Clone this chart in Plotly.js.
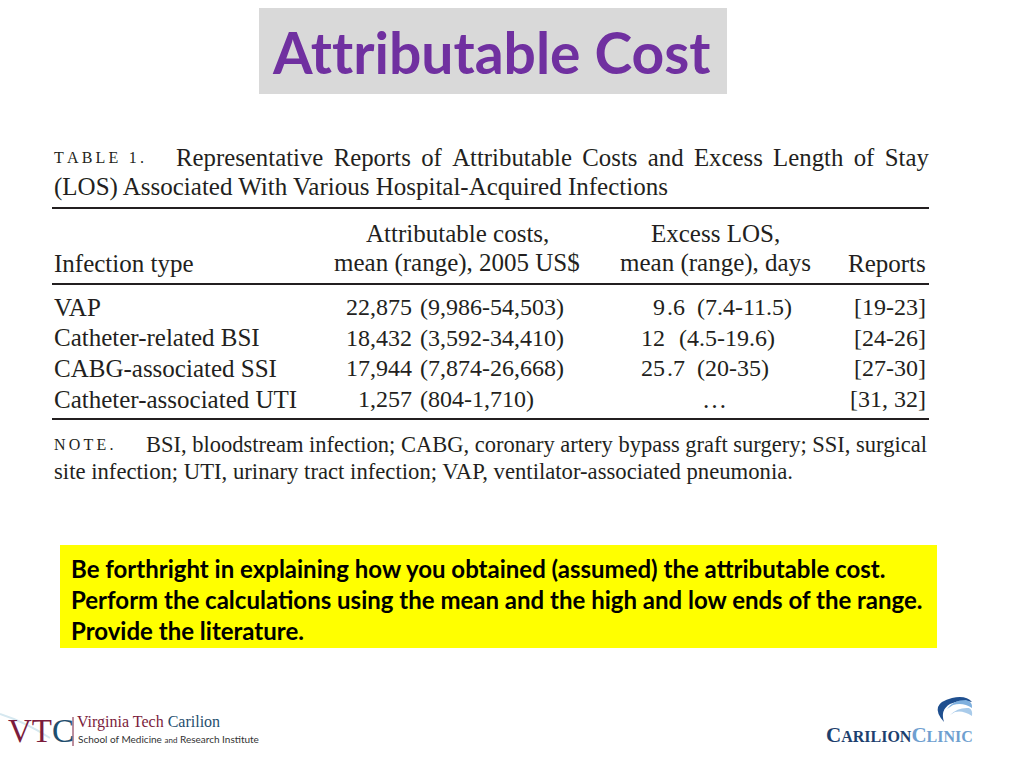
<!DOCTYPE html>
<html>
<head>
<meta charset="utf-8">
<script src="https://cdn.plot.ly/plotly-3.0.1.min.js"></script>
<style>html,body{margin:0;padding:0;background:#fff;}#chart{width:1024px;height:768px;}</style>
</head>
<body>
<div id="chart"></div>
<script>
// ---- data ----
const slideTitle = "Attributable Cost";
const tableLabel = "TABLE 1.";
const captionLines = [
  "Representative Reports of Attributable Costs and Excess Length of Stay",
  "(LOS) Associated With Various Hospital-Acquired Infections"
];
const headerInfection = "Infection type";
const headerCost = ["Attributable costs,", "mean (range), 2005 US$"];
const headerLOS = ["Excess LOS,", "mean (range), days"];
const headerReports = "Reports";
const infections = ["VAP", "Catheter-related BSI", "CABG-associated SSI", "Catheter-associated UTI"];
const costMean = ["22,875", "18,432", "17,944", "1,257"];
const costRange = ["(9,986-54,503)", "(3,592-34,410)", "(7,874-26,668)", "(804-1,710)"];
const losMean = ["9.6", "12", "25.7", null];
const losRange = ["(7.4-11.5)", "(4.5-19.6)", "(20-35)", null];
const reports = ["[19-23]", "[24-26]", "[27-30]", "[31, 32]"];
const noteLabel = "NOTE.";
const noteLines = [
  "BSI, bloodstream infection; CABG, coronary artery bypass graft surgery; SSI, surgical",
  "site infection; UTI, urinary tract infection; VAP, ventilator-associated pneumonia."
];
const instructions = [
  "Be forthright in explaining how you obtained (assumed) the attributable cost.",
  "Perform the calculations using the mean and the high and low ends of the range.",
  "Provide the literature."
];

// ---- layout helpers ----
const serif = "Liberation Serif, Times New Roman, serif";
const sans = "Lato, Open Sans, sans-serif";
const ink = "#231f20";
const ann = [];
const shapes = [];
function txt(x, y, text, opts) {
  opts = opts || {};
  ann.push({
    x: x, y: y, xref: "x", yref: "y", text: text, showarrow: false,
    xanchor: opts.xa || "left", yanchor: opts.ya || "middle",
    align: opts.xa === "right" ? "right" : (opts.xa === "center" ? "center" : "left"),
    font: {family: opts.family || serif, size: opts.size || 25, color: opts.color || ink},
    borderpad: 0
  });
}
function hline(y, x0, x1, w) {
  shapes.push({type: "line", xref: "x", yref: "y", x0: x0, x1: x1, y0: y, y1: y,
    line: {color: ink, width: w || 2}});
}
function widen(s, extra) { return s.split(" ").join(" " + extra); }

// title box
shapes.push({type: "rect", xref: "x", yref: "y", x0: 259, x1: 727, y0: 8, y1: 94,
  fillcolor: "#d9d9d9", line: {width: 0}, layer: "below"});
txt(491, 52, "<b>" + slideTitle.replace(/tt/g, "t\u200ct") + "</b>", {xa: "center", family: sans, size: 57, color: "#7030a0"});

// caption
txt(53, 157, tableLabel.split("").join("\u2009"), {size: 16});
txt(175, 157, widen(captionLines[0], "\u200a\u200a"), {size: 24.8});
txt(53, 187, captionLines[1], {size: 25});
hline(208, 52, 929, 2);

// header
txt(53, 263, headerInfection);
txt(457, 233, headerCost[0], {xa: "center"});
txt(457, 263, headerCost[1], {xa: "center"});
txt(715, 233, headerLOS[0], {xa: "center"});
txt(715, 263, headerLOS[1], {xa: "center"});
txt(927, 263, headerReports, {xa: "right"});
hline(284, 52, 929, 2);

// rows
const rowY0 = 307, rowStep = 30.7;
infections.forEach(function (name, i) {
  const y = rowY0 + i * rowStep;
  txt(53, y, name);
  txt(413, y, costMean[i], {xa: "right", size: 24});
  txt(419, y, costRange[i], {size: 24});
  if (losMean[i] === null) {
    txt(714, y, "\u2026", {xa: "center"});
  } else {
    const parts = losMean[i].split(".");
    txt(666, y, parts[0], {xa: "right", size: 24});
    const rest = (parts.length > 1 ? "." + parts[1] : "") + "\u00a0\u00a0" + losRange[i];
    txt(666, y, rest, {size: 24});
  }
  txt(927, y, reports[i], {xa: "right", size: 24});
});
hline(419, 52, 929, 2);

// note
txt(53, 444, noteLabel.split("").join("\u2009"), {size: 16});
txt(145, 444, noteLines[0], {size: 22.5});
txt(53, 471, noteLines[1], {size: 22.7});

// instruction box
shapes.push({type: "rect", xref: "x", yref: "y", x0: 60, x1: 937, y0: 545, y1: 648,
  fillcolor: "#ffff00", line: {width: 0}, layer: "below"});
instructions.forEach(function (line, i) {
  txt(70, 568 + i * 31, "<b>" + line + "</b>", {family: sans, size: 24, color: "#000"});
});

// VTC logo (text approximation)
shapes.push({type: "path", xref: "x", yref: "y",
  path: "M 0 714 Q 25 722 50 738", line: {color: "#d6e8f0", width: 2}});
txt(7, 731, "<span style='color:#7b1c3c'>VT</span><span style='color:#1f4e6e'>C</span>",
  {family: serif, size: 33});
shapes.push({type: "line", xref: "x", yref: "y", x0: 73, x1: 73, y0: 717, y1: 746,
  line: {color: "#7b1c3c", width: 1}});
txt(76, 722, "<span style='color:#7b1c3c'>Virginia Tech</span> <span style='color:#1f4e6e'>Carilion</span>",
  {family: serif, size: 16});
txt(77, 739, "School of Medicine <span style='font-size:8px'>and</span> Research Institute",
  {family: sans, size: 10, color: "#333"});

// Carilion Clinic logo
shapes.push({type: "path", xref: "x", yref: "y",
  path: "M 944 722 Q 928 704 952 698 Q 966 695 972 702 Q 960 699 950 704 Q 940 710 944 722 Z",
  fillcolor: "#1f4f8f", line: {width: 0}});
shapes.push({type: "path", xref: "x", yref: "y",
  path: "M 947 709 Q 953 700 966 700 Q 973 702 972 708 Q 963 702 953 705 Z",
  fillcolor: "#7fb0de", line: {width: 0}});
shapes.push({type: "path", xref: "x", yref: "y",
  path: "M 950 715 Q 958 707 969 708 Q 973 710 972 716 Q 963 710 955 712 Z",
  fillcolor: "#a9cbea", line: {width: 0}});
txt(825, 735, "<b><span style='color:#1d3f6e'>C<span style='font-size:16px'>ARILION</span></span><span style='color:#6f9fd0'>C<span style='font-size:16px'>LINIC</span></span></b>",
  {family: serif, size: 21});

const data = [{type: "scatter", x: [], y: [], mode: "markers", hoverinfo: "skip", showlegend: false}];
const layout = {
  width: 1024, height: 768,
  margin: {l: 0, r: 0, t: 0, b: 0},
  paper_bgcolor: "#ffffff", plot_bgcolor: "#ffffff",
  xaxis: {range: [0, 1024], visible: false, fixedrange: true},
  yaxis: {range: [768, 0], visible: false, fixedrange: true},
  annotations: ann, shapes: shapes, showlegend: false
};
Plotly.newPlot("chart", data, layout, {displayModeBar: false, staticPlot: true});
</script>
</body>
</html>
